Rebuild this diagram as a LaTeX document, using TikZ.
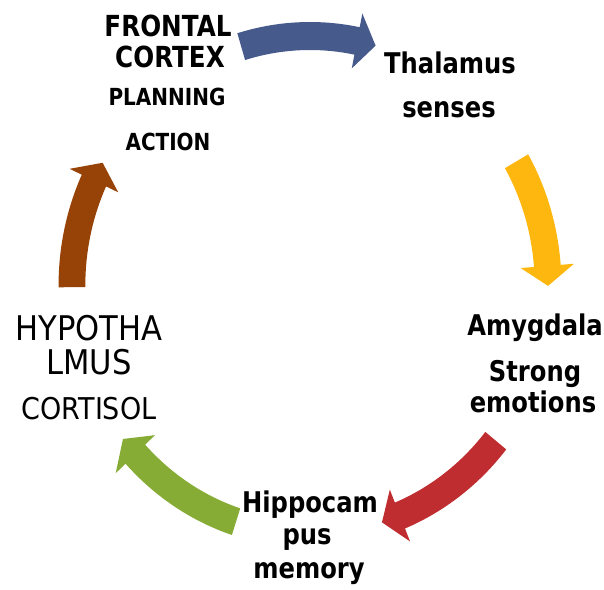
\documentclass[tikz,border=0pt]{standalone}
\usepackage{fontspec}
\setmainfont[FakeStretch=0.9]{DejaVu Sans}
\newfontfamily\narrowfont[FakeStretch=0.85]{DejaVu Sans}
\definecolor{cBlue}{RGB}{71,90,140}
\definecolor{cOrange}{RGB}{253,183,14}
\definecolor{cRed}{RGB}{192,45,48}
\definecolor{cGreen}{RGB}{134,172,54}
\definecolor{cBrown}{RGB}{151,66,6}
\newcommand\cycarrow[3]{%
  \pgfmathsetmacro\myHB{#2+4.6}%
  \fill[#3] (#1:263) arc[start angle=#1, end angle=\myHB, radius=263]
    -- (\myHB:277) -- (#2:249) -- (\myHB:221) -- (\myHB:235)
    arc[start angle=\myHB, end angle=#1, radius=235] -- cycle;}
\begin{document}
\begin{tikzpicture}[x=1pt,y=-1pt,
  lbl/.style={anchor=base, inner sep=0pt, text=black},
  capbig/.style={lbl, font=\narrowfont\bfseries\fontsize{29}{29}\selectfont},
  capsmall/.style={lbl, font=\narrowfont\bfseries\fontsize{23.5}{23.5}\selectfont},
  lowbold/.style={lbl, font=\narrowfont\bfseries\fontsize{28.5}{28.5}\selectfont},
  hypo/.style={lbl, font=\fontsize{34}{34}\selectfont},
  hyposmall/.style={lbl, font=\fontsize{30}{30}\selectfont}]
\useasboundingbox (0,0) rectangle (604,589);
\begin{scope}[shift={(310,285)}, x=0.956pt, y=1pt]
  \cycarrow{106.8}{74.0}{cBlue}
  \cycarrow{29.8}{-0.2}{cOrange}
  \cycarrow{-38.7}{-72.4}{cRed}
  \cycarrow{-108.1}{-141.8}{cGreen}
  \cycarrow{180.5}{150.6}{cBrown}
\end{scope}
% Frontal cortex
\node[capbig]   (fc1) at (168,36)  {FRONTAL};
\node[capbig]   (fc2) at (170,67)  {CORTEX};
\node[capsmall] (fc3) at (167,105) {PLANNING};
\node[capsmall] (fc4) at (168,150) {ACTION};
% Thalamus
\node[lowbold] (th1) at (450,73)  {Thalamus};
\node[lowbold] (th2) at (449,117) {senses};
% Amygdala
\node[lowbold] (am1) at (535,335) {Amygdala};
\node[lowbold] (am2) at (535,381) {Strong};
\node[lowbold] (am3) at (533,412) {emotions};
% Hippocampus
\node[lowbold] (hi1) at (310,512) {Hippocam};
\node[lowbold] (hi2) at (307,544) {pus};
\node[lowbold] (hi3) at (309,578) {memory};
% Hypothalamus
\node[hypo]      (hy1) at (89,340) {HYPOTHA};
\node[hypo]      (hy2) at (89,374) {LMUS};
\node[hyposmall] (hy3) at (89,419) {CORTISOL};
\end{tikzpicture}
\end{document}
